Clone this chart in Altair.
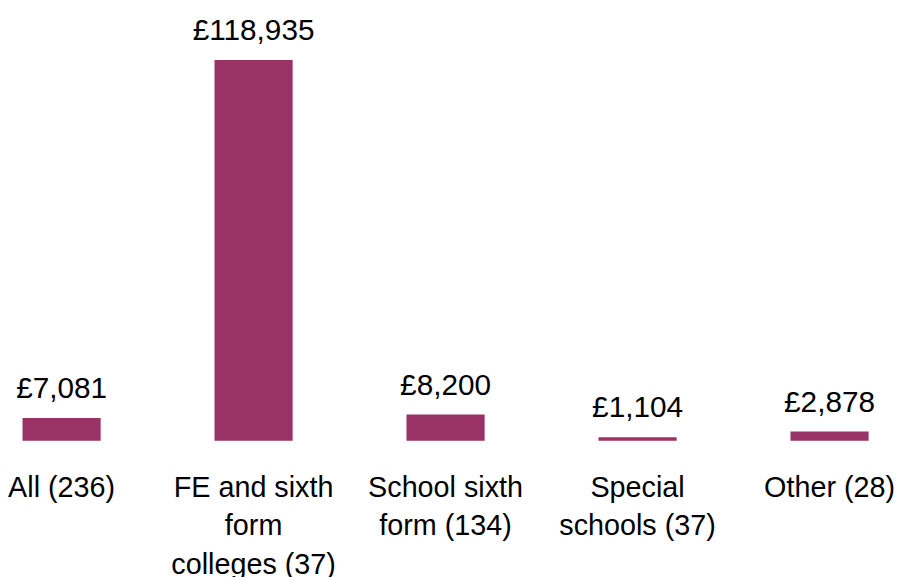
import altair as alt
import pandas as pd

categories = ["All (236)", "FE and sixth|form|colleges (37)", "School sixth|form (134)",
              "Special|schools (37)", "Other (28)"]
values = [7081, 118935, 8200, 1104, 2878]
value_labels = ["£7,081", "£118,935", "£8,200", "£1,104", "£2,878"]

df = pd.DataFrame({"cat": categories, "value": values, "label": value_labels})

FONT = "Liberation Sans"
COLOR = "#993366"

x = alt.X("cat:N", sort=categories, title=None,
          scale=alt.Scale(paddingInner=0.593, paddingOuter=0.055),
          axis=alt.Axis(labelAngle=0, domain=False, ticks=False, labelFont=FONT,
                        labelFontSize=29, labelColor="black", labelPadding=33,
                        labelLineHeight=39, labelBaseline="top",
                        labelExpr="split(datum.label, '|')", labelLimit=0))
y = alt.Y("value:Q", title=None, axis=None,
          scale=alt.Scale(domain=[0, 118935], nice=False, zero=True))

base = alt.Chart(df).encode(x=x, y=y)
bars = base.mark_bar(color=COLOR)
text = base.mark_text(font=FONT, fontSize=30, color="black", baseline="alphabetic",
                      dy=-20).encode(text="label:N")

chart = (bars + text).properties(
    width=875, height=384,
    autosize=alt.AutoSizeParams(type="none"),
    padding={"left": 4, "top": 50, "right": 20, "bottom": 135},
).configure_view(stroke=None).configure_axis(grid=False)

chart.save("out.html", embed_options={"renderer": "svg", "actions": False})
